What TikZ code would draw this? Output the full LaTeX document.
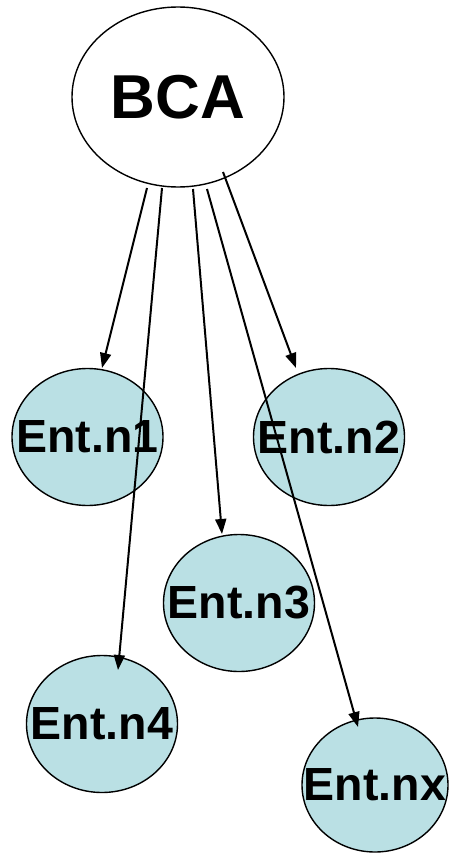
\documentclass[tikz,border=0pt]{standalone}
\usepackage{fontspec}
\setmainfont{Liberation Sans}
\usetikzlibrary{shapes.geometric,arrows.meta,calc}
\definecolor{entfill}{RGB}{186,224,228}
\begin{document}
\begin{tikzpicture}[x=1pt,y=-1pt,
  bubble/.style={ellipse,draw,line width=1.4pt,inner sep=0pt},
  root/.style={bubble,fill=white,minimum width=212pt,minimum height=180pt,
    label={[font=\bfseries\fontsize{62}{62}\selectfont]center:#1}},
  ent/.style={bubble,fill=entfill,minimum width=151pt,minimum height=137pt,
    label={[font=\bfseries\fontsize{46.5}{46.5}\selectfont]center:#1}},
  link/.style={line width=2pt,-{Triangle[length=15pt,width=11pt]}}]
\useasboundingbox (0,0) rectangle (451,853);

% root and entity nodes (text set as centred labels so it does not size the shape)
\node[root=BCA] (bca) at (178,97) {};
\node[ent=Ent.n1] (n1) at (87.5,437) {};
\node[ent=Ent.n2] (n2) at (329,437) {};
\node[ent=Ent.n3] (n3) at (239,603) {};
\node[ent=Ent.n4] (n4) at (102,724) {};
\node[ent=Ent.nx,minimum width=146pt,minimum height=134pt] (nx) at (375,785) {};

% links from the root to each entity
\draw[link] ($(bca.center)+(-31,91)$) -- ($(n1.center)+(14.5,-69)$);
\draw[link] ($(bca.center)+(-16,91)$) -- ($(n4.center)+(16,-54)$);
\draw[link] ($(bca.center)+(15,92)$)  -- ($(n3.center)+(-17,-69)$);
\draw[link] ($(bca.center)+(29,92)$)  -- ($(nx.center)+(-17,-58)$);
\draw[link] ($(bca.center)+(45,75)$)  -- ($(n2.center)+(-33,-69)$);
\end{tikzpicture}
\end{document}
